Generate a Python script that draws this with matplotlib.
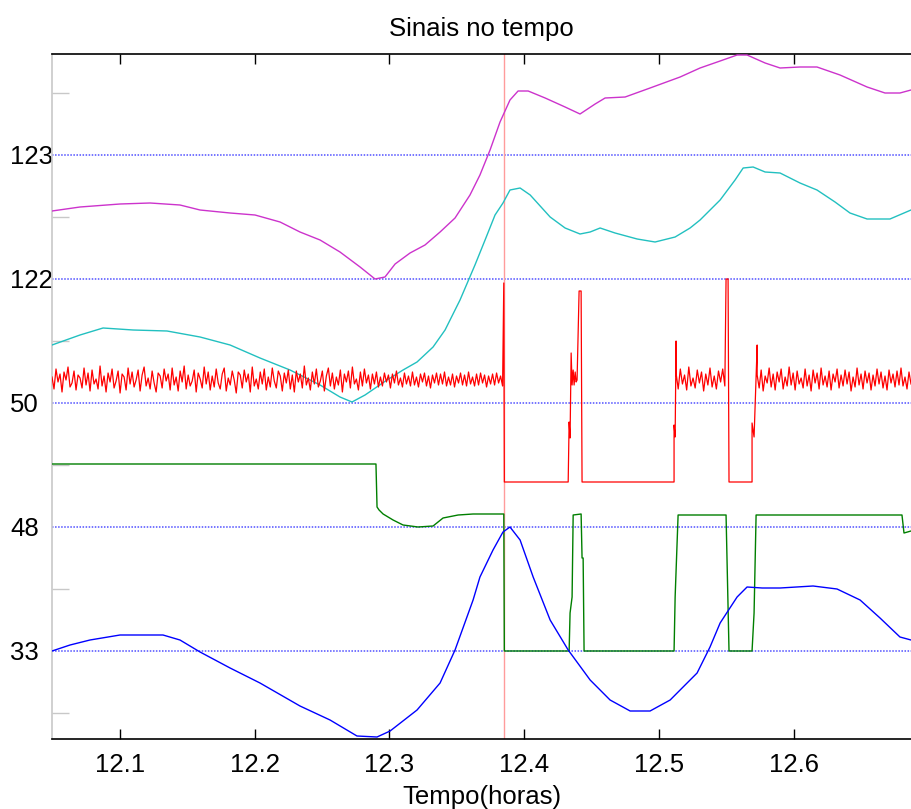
import numpy as np
import matplotlib
matplotlib.use("Agg")
import matplotlib.pyplot as plt
from matplotlib.ticker import FixedLocator

plt.rcParams['font.family'] = ['Liberation Sans', 'DejaVu Sans']

# ---------------- data (time in hours, values in stacked display units) -------------
ref_levels = [0, 124, 248, 372, 496]
ref_labels = ['33', '48', '50', '122', '123']
minor_levels = [-62, 62, 186, 310, 434, 558]
xticks = [12.1, 12.2, 12.3, 12.4, 12.5, 12.6]
xlim = (12.0495, 12.6872)
ylim = (-88, 597)
event_time = 12.3852

mag_t = [12.0495, 12.0703, 12.1, 12.1223, 12.1445, 12.1594, 12.1817, 12.2002, 12.2188,
         12.2336, 12.2485, 12.2633, 12.2782, 12.2893, 12.2967, 12.3042, 12.3153, 12.3264,
         12.3376, 12.3487, 12.3598, 12.3672, 12.3747, 12.3821, 12.3895, 12.3955, 12.4030,
         12.4156, 12.4304, 12.4415, 12.4527, 12.4601, 12.4750, 12.4935, 12.5158, 12.5306,
         12.5455, 12.5581, 12.5655, 12.5789, 12.5900, 12.6048, 12.6174, 12.6345, 12.6546,
         12.6679, 12.6790, 12.6872]
mag_v = [440, 444, 447, 448, 446, 441, 438, 436, 429, 419, 411, 399, 384, 372, 374, 387,
         398, 406, 419, 433, 456, 476, 501, 529, 551, 560, 560, 553, 544, 537, 547, 553,
         554, 563, 574, 583, 590, 596, 596, 588, 583, 584, 584, 576, 564, 558, 558, 561]

cyan_t = [12.0495, 12.0703, 12.0874, 12.1097, 12.1349, 12.1594, 12.1817, 12.2039, 12.2262,
          12.2485, 12.2633, 12.2722, 12.2819, 12.2982, 12.3101, 12.3205, 12.3324, 12.3413,
          12.3524, 12.3635, 12.3710, 12.3784, 12.3843, 12.3895, 12.3970, 12.4045, 12.4193,
          12.4304, 12.4415, 12.4490, 12.4564, 12.4675, 12.4839, 12.4972, 12.5121, 12.5232,
          12.5306, 12.5455, 12.5566, 12.5626, 12.5700, 12.5789, 12.5900, 12.6048, 12.6174,
          12.6308, 12.6419, 12.6546, 12.6716, 12.6872]
cyan_v = [306, 316, 323, 321, 320, 314, 306, 293, 281, 266, 254, 249, 256, 271, 281, 289,
          304, 321, 351, 386, 411, 436, 448, 461, 463, 456, 434, 423, 417, 419, 423, 418,
          412, 409, 414, 423, 431, 451, 471, 483, 484, 479, 478, 468, 461, 449, 438, 432,
          432, 441]

blue_t = [12.0495, 12.0629, 12.0777, 12.1, 12.1319, 12.1445, 12.1594, 12.1817, 12.2039,
          12.2336, 12.2559, 12.2759, 12.2908, 12.3005, 12.3205, 12.3376, 12.3487, 12.3621,
          12.3672, 12.3769, 12.3843, 12.3895, 12.3970, 12.4067, 12.4193, 12.4327, 12.4490,
          12.4638, 12.4787, 12.4935, 12.5084, 12.5195, 12.5284, 12.5380, 12.5455, 12.5581,
          12.5655, 12.5767, 12.5900, 12.6145, 12.6323, 12.6494, 12.6642, 12.6790, 12.6872]
blue_v = [0, 6, 11, 16, 16, 11, -1, -17, -32, -55, -69, -85, -86, -80, -59, -32, 1, 51,
          74, 101, 119, 124, 111, 74, 31, 1, -29, -49, -60, -60, -49, -34, -22, 4, 28, 54,
          64, 63, 63, 65, 62, 51, 33, 14, 11]

green_t = [12.0495, 12.2900, 12.2908, 12.2923, 12.2953, 12.3027, 12.3101, 12.3212,
           12.3324, 12.3398, 12.3510, 12.3621, 12.3849, 12.3853, 12.4334, 12.4341, 12.4356,
           12.4364, 12.4423, 12.4430, 12.4438, 12.4445, 12.5113, 12.5121, 12.5143, 12.5499,
           12.5521, 12.5692, 12.5707, 12.5722, 12.6805, 12.6820, 12.6872]
green_v = [187, 187, 144, 141, 137, 131, 126, 124, 125, 133, 136, 137, 137, 0, 0, 38,
           54, 136, 137, 93, 93, 0, 0, 54, 136, 136, 0, 0, 38, 136, 136, 118, 120]

red_base = 271
red_noise_a = [3, -9, 11, -2, 6, -12, 8, 0, 13, -7, -3, 9, -10, 5, 2, -8, 12, -5, 7, -11,
               10, -4, 1, -9, 14, -6, 4, -12, 7, -2, 11, -8, -1, 9, -13, 6, 3, -10, 12, -4,
               8, -7, 0, 10, -11, 5, 13, -6, 2, -9, 9, -3, -12, 7, 4, -8, 11, -1, 6, -10,
               12, -5, 3, -11, 9, -2, 14, -9, 5, -6, -1, 10, -12, 7, 1, -8, 13, -4, 8, -10,
               4, -7, 11, -3, -9, 6, 12, -11, 2, -5, 9, 0, -13, 8, 5, -8, 10, -2, 6, -12,
               13, -6, 1, -9, 8, -4, 11, -10, 3, -7, 12, -1, -8, 9, 4, -11, 7, -3, 10, -9,
               5, -12, 9, -2, 6, -8, 14, -5, 2, -10, 8, -4, 11, -7, -1, 9, -11, 4, 12, -6,
               7, -9, 3, -5, 10, -12, 6, -2, 9, -8, 13, -4, 1, -10, 8, -6, 11, -3, 5, -9,
               6, -4, 8, -7, 3, -6, 7, -2, 5, -8, 6, -3, 9, -5, 2, -7, 7, -4, 4, -6,
               8, -5, 3, -7, 6, -2, 7, -6, 4, -8, 5, -3, 7, -5, 6, -4, 8, -6, 3, -5,
               6, -7, 4, -3, 7, -5, 5, -6, 8, -4, 3, -6, 6, -5, 7, -3, 5, -7, 4, -4,
               6, -5, 7, -3, 4, -6]
red_noise_b = [7, -9, 11, -4, 5, -10, 13, -6, 2, -8, 10, -3, 8, -11, 6, -5, 12, -7, 4, -9,
               9, -2, 11, -6]
red_noise_c = [5, -8, 10, -11, 4, -3, 12, -7, 6, -10, 8, -2, 11, -9, 3, -6, 13, -5, 7, -10,
               9, -4, 2, -8, 11, -6, 5, -11, 10, -3, 7, -9, 12, -5, 4, -7, 9, -10, 6, -2,
               11, -8, 5, -6, 10, -4, 8, -11, 3, -7, 12, -5, 6, -9, 9, -3, 7, -10, 5, -6,
               11, -4, 8, -8, 4, -10, 10, -3, 6, -7, 9, -5, 12, -6, 3, -9, 8, -4]
red_seg_a = (12.0495, 12.3840)
red_seg_b = (12.5128, 12.5490)
red_seg_c = (12.5730, 12.6872)
red_events_1_t = [12.3849, 12.3853, 12.4327, 12.4334, 12.4341, 12.4349, 12.4356, 12.4364,
                  12.4371, 12.4379, 12.4386, 12.4393, 12.4408, 12.4415, 12.4423, 12.4430]
red_events_1_v = [368, 169, 169, 229, 213, 298, 266, 281, 266, 279, 269, 271, 360, 360,
                  360, 169]
red_events_2_t = [12.5113, 12.5113, 12.5121, 12.5128]
red_events_2_v = [169, 226, 214, 310]
red_events_3_t = [12.5499, 12.5514, 12.5521, 12.5692, 12.5692, 12.5707, 12.5730]
red_events_3_v = [372, 372, 169, 169, 228, 214, 306]

# ---------------- figure -------------
fig = plt.figure(figsize=(9.11, 8.09), dpi=100)
ax = fig.add_axes([52 / 911, 70 / 809, (911 - 52) / 911, (739 - 54) / 809])

for lv in ref_levels:
    ax.axhline(lv, color='#5050ff', lw=1.1, ls=(0, (1, 1)), zorder=1)

ax.axvline(event_time, color='#ff9c9c', lw=1.0, zorder=1)

ax.plot(mag_t, mag_v, color='#cc33cc', lw=1.0, zorder=3)
ax.plot(cyan_t, cyan_v, color='#22c0c0', lw=1.0, zorder=3)

ta = np.linspace(red_seg_a[0], red_seg_a[1], len(red_noise_a))
tb = np.linspace(red_seg_b[0], red_seg_b[1], len(red_noise_b))
tc = np.linspace(red_seg_c[0], red_seg_c[1], len(red_noise_c))
red_t = np.concatenate([ta, red_events_1_t, red_events_2_t, tb, red_events_3_t, tc])
red_v = np.concatenate([red_base + np.array(red_noise_a), red_events_1_v, red_events_2_v,
                        red_base + np.array(red_noise_b), red_events_3_v,
                        red_base + np.array(red_noise_c)])
ax.plot(red_t, red_v, color='#ff0000', lw=0.9, zorder=3)

ax.plot(green_t, green_v, color='#007f00', lw=1.0, zorder=3)
ax.plot(blue_t, blue_v, color='#0000ff', lw=1.0, zorder=4)

ax.set_xlim(*xlim)
ax.set_ylim(*ylim)

ax.set_xticks(xticks)
ax.set_xticklabels([f'{x:.1f}' for x in xticks])
ax.tick_params(axis='x', direction='in', length=7, width=1, top=True, bottom=True,
               labelsize=18.5, pad=10, color='black')

ax.set_yticks(ref_levels)
ax.set_yticklabels(ref_labels)
ax.tick_params(axis='y', which='major', length=0, labelsize=18.5, pad=30)
for lbl in ax.get_yticklabels():
    lbl.set_horizontalalignment('left')
ax.yaxis.set_minor_locator(FixedLocator(minor_levels))
ax.tick_params(axis='y', which='minor', direction='in', length=12, width=1,
               color='#c8c8c8', left=True, right=False)

ax.spines['right'].set_visible(False)
ax.spines['left'].set_color('#c8c8c8')
ax.spines['top'].set_color('black')
ax.spines['bottom'].set_color('black')
for s in ('top', 'bottom', 'left'):
    ax.spines[s].set_linewidth(1.2)

ax.set_title('Sinais no tempo', fontsize=18.5, pad=13)
ax.set_xlabel('Tempo(horas)', fontsize=18.5, labelpad=6)

fig.savefig('out.png', dpi=100)
